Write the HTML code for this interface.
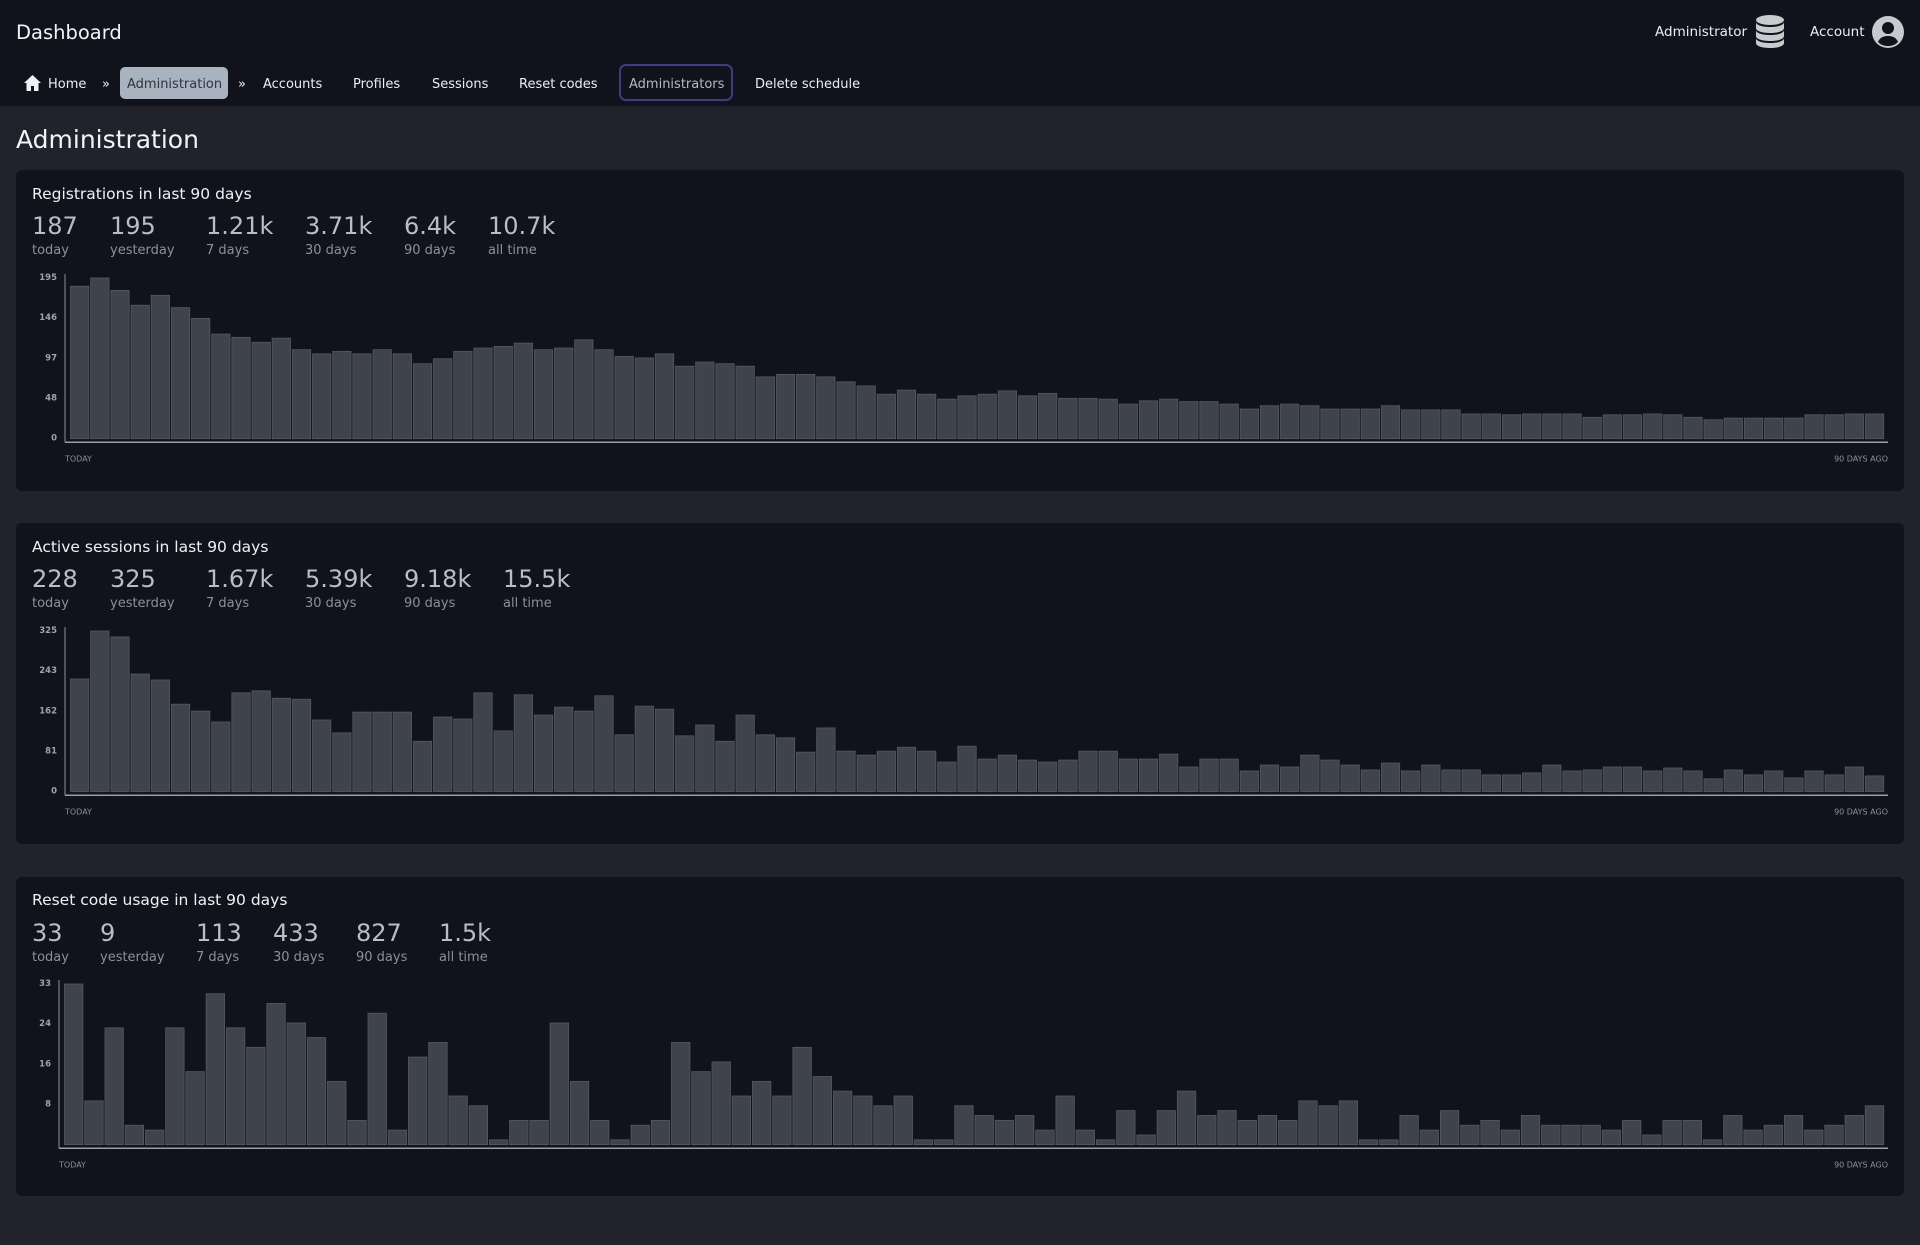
<!DOCTYPE html>
<html><head><meta charset="utf-8"><style>
*{margin:0;padding:0;box-sizing:border-box}
body{width:1920px;height:1245px;background:#21222b;font-family:"DejaVu Sans","Liberation Sans",sans-serif;position:relative;overflow:hidden;color:#e8e9ec}
.abs{position:absolute;white-space:nowrap}
#hdr{position:absolute;left:0;top:0;width:1920px;height:106px;background:#11121b}
.nav{position:absolute;top:74.5px;font-size:13px;color:#eceef2;line-height:20px}
.card{position:absolute;left:16px;width:1888px;background:#11121b;border-radius:6px}
.ctitle{font-size:15.5px;color:#f0f1f4}
.num{font-size:24px;color:#b9bdc6}
.lbl{font-size:13px;color:#8c909a}
svg.chart{position:absolute;left:0;top:0}
</style></head><body>
<div id="hdr"></div>
<div class="abs" style="left:16px;top:20.5px;font-size:19.5px;color:#f2f3f5">Dashboard</div>
<div class="abs" style="left:1655px;top:23.5px;font-size:13.5px;color:#eceef2">Administrator</div>
<svg class="abs" style="left:1755px;top:15px" width="30" height="33">
<ellipse cx="15" cy="5" rx="14" ry="5" fill="#c9cacd"/>
<path d="M1 7v6c0 3 6 5 14 5s14-2 14-5V7c0 3-6 5-14 5S1 10 1 7z" fill="#c9cacd"/>
<path d="M1 15v6c0 3 6 5 14 5s14-2 14-5v-6c0 3-6 5-14 5S1 18 1 15z" fill="#c9cacd"/>
<path d="M1 23v5c0 3 6 5 14 5s14-2 14-5v-5c0 3-6 5-14 5S1 26 1 23z" fill="#c9cacd"/>
</svg>
<div class="abs" style="left:1810px;top:23.5px;font-size:13.5px;color:#eceef2">Account</div>
<svg class="abs" style="left:1872px;top:16px" width="32" height="32">
<circle cx="16" cy="16" r="16" fill="#c9cacd"/><circle cx="16" cy="12" r="6" fill="#11121b"/>
<path d="M6 26c2-5 6-6 10-6s8 1 10 6c-3 3-6 4-10 4s-7-1-10-4z" fill="#11121b"/>
</svg>
<svg class="abs" style="left:24px;top:75px" width="17" height="16"><path d="M8.5 0L0 8h2.5v8h4.5v-5h3v5h4.5V8H17z" fill="#f0f1f4"/></svg>
<div class="nav" style="left:48px">Home</div>
<div class="nav" style="left:102px">»</div>
<div class="abs" style="left:120px;top:67px;width:108px;height:32px;background:#a9b3bf;border-radius:5px"></div>
<div class="nav" style="left:127px;color:#2e3340">Administration</div>
<div class="nav" style="left:238px">»</div>
<div class="nav" style="left:263px">Accounts</div>
<div class="nav" style="left:353px">Profiles</div>
<div class="nav" style="left:432px">Sessions</div>
<div class="nav" style="left:519px">Reset codes</div>
<div class="abs" style="left:619px;top:64px;width:114px;height:37px;border:2px solid #3e3d80;border-radius:7px"></div>
<div class="nav" style="left:629px;color:#b4b9c4">Administrators</div>
<div class="nav" style="left:755px">Delete schedule</div>
<div class="abs" style="left:16px;top:124.5px;font-size:25px;color:#f2f3f5">Administration</div>

<div class="card" style="top:170px;height:321px"></div>
<div class="card" style="top:523px;height:321px"></div>
<div class="card" style="top:877px;height:319px"></div>

<div class="abs ctitle" style="left:32px;top:184.5px">Registrations in last 90 days</div>
<div class="abs ctitle" style="left:32px;top:537.5px">Active sessions in last 90 days</div>
<div class="abs ctitle" style="left:32px;top:890.5px">Reset code usage in last 90 days</div>

<div id="stats"></div>
<svg class="chart" id="chartsvg" width="1920" height="1245"></svg>

<script>
const regValues=[185,195,180,162,174,159,146,127,123,117,122,108,103,106,103,108,103,91,97,106,110,112,116,108,110,120,108,100,98,103,88,93,91,88,75,78,78,75,69,64,54,59,54,48,52,54,58,52,55,49,49,48,42,46,48,45,45,42,36,40,42,40,36,36,36,40,35,35,35,30,30,29,30,30,30,26,29,29,30,29,26,23,25,25,25,25,29,29,30,30];
const sessValues=[228,325,313,238,226,177,163,141,200,204,189,187,145,119,161,161,161,102,151,147,200,123,196,155,171,163,194,115,173,167,113,135,102,155,115,109,80,129,82,74,82,90,82,60,92,66,74,64,60,64,82,82,66,66,76,50,66,66,42,54,50,74,64,54,44,58,42,54,44,44,34,34,38,54,42,44,50,50,42,48,42,26,44,34,42,28,42,34,50,32];
const resetValues=[33,9,24,4,3,24,15,31,24,20,29,25,22,13,5,27,3,18,21,10,8,1,5,5,25,13,5,1,4,5,21,15,17,10,13,10,20,14,11,10,8,10,1,1,8,6,5,6,3,10,3,1,7,2,7,11,6,7,5,6,5,9,8,9,1,1,6,3,7,4,5,3,6,4,4,4,3,5,2,5,5,1,6,3,4,6,3,4,6,8];
const regTicks=["195","146","97","48","0"];
const sessTicks=["325","243","162","81","0"];
const resetTicks=["33","24","16","8",""];
const regStats=["187","195","1.21k","3.71k","6.4k","10.7k"];
const sessStats=["228","325","1.67k","5.39k","9.18k","15.5k"];
const resetStats=["33","9","113","433","827","1.5k"];
const statLabels=["today","yesterday","7 days","30 days","90 days","all time"];

const NS="http://www.w3.org/2000/svg";
const svg=document.getElementById('chartsvg');
function mk(tag,attrs){const e=document.createElementNS(NS,tag);for(const k in attrs)e.setAttribute(k,attrs[k]);return e;}

function drawStats(vals,xs,top,prefix){
  const host=document.getElementById('stats');
  vals.forEach((v,i)=>{
    const n=document.createElement('div');n.className='abs num';
    n.style.left=xs[i]+'px';n.style.top=top+'px';n.textContent=v;
    
    
    host.appendChild(n);
    const l=document.createElement('div');l.className='abs lbl';
    l.style.left=xs[i]+'px';l.style.top=(top+31)+'px';l.textContent=statLabels[i];
    
    
    host.appendChild(l);
  });
}
drawStats(regStats,[32,110,206,305,404,488],212,'registrations');
drawStats(sessStats,[32,110,206,305,404,503],565,'sessions');
drawStats(resetStats,[32,100,196,273,356,439],919,'reset-codes');

function drawChart(values,ticks,axisX,baseY,prefix){
  const g=mk('g',{});
  
  
  svg.appendChild(g);
  const H=160.7, left=axisX+5, right=1885;
  const maxV=Math.max(...values);
  const pitch=(right-left)/values.length;
  const y=v=>baseY-v/maxV*H;
  const ya=mk('line',{x1:axisX,y1:baseY-H-4,x2:axisX,y2:baseY+3.5,stroke:'#8d919b','stroke-width':1});
  
  
  g.appendChild(ya);
  const xa=mk('line',{x1:axisX,y1:baseY+3.5,x2:1888,y2:baseY+3.5,stroke:'#9a9ea8','stroke-width':1.5});
  
  
  g.appendChild(xa);
  ticks.forEach((t,i)=>{
    const v=maxV*(1-i/4);
    const tx=mk('text',{x:axisX-8,y:y(v)+2,'text-anchor':'end','font-size':8.5,'font-weight':'bold',fill:'#9ea2ab','font-family':'DejaVu Sans, Liberation Sans, sans-serif'});
    tx.textContent=t;
    
    
    g.appendChild(tx);
  });
  values.forEach((v,i)=>{
    const x=left+i*pitch;
    const r=mk('rect',{x:x+0.5,y:y(v),width:pitch-1.8,height:baseY-y(v),fill:'#3f434b',stroke:'#555961','stroke-width':0.8});
    
    
    g.appendChild(r);
  });
  const t1=mk('text',{x:axisX,y:baseY+23,'font-size':8,fill:'#8c909a','font-family':'DejaVu Sans, Liberation Sans, sans-serif'});
  t1.textContent='TODAY';
  
  
  g.appendChild(t1);
  const t2=mk('text',{x:1888,y:baseY+23,'text-anchor':'end','font-size':8,fill:'#8c909a','font-family':'DejaVu Sans, Liberation Sans, sans-serif'});
  t2.textContent='90 DAYS AGO';
  
  
  g.appendChild(t2);
}
drawChart(regValues,regTicks,65,438.7,'registrations');
drawChart(sessValues,sessTicks,65,791.7,'sessions');
drawChart(resetValues,resetTicks,59,1144.7,'reset-codes');
</script>
</body></html>
